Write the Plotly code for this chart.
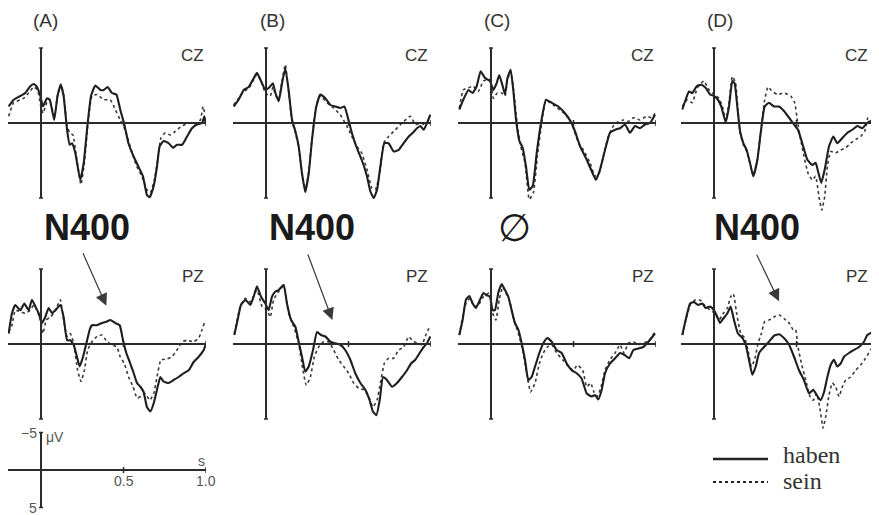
import plotly.graph_objects as go

# ---------------- data (time in s, amplitude in microvolt; negative plotted up) -------------
A_CZ_haben_t = [-0.196,-0.166,-0.125,-0.095,-0.065,-0.044,-0.024,-0.004,0.012,0.036,0.053,0.08,0.10,0.12,0.137,0.158,0.174,0.188,0.208,0.238,0.259,0.283,0.303,0.329,0.36,0.38,0.404,0.43,0.457,0.48,0.505,0.53,0.56,0.59,0.618,0.642,0.659,0.683,0.703,0.719,0.743,0.774,0.80,0.824,0.855,0.885,0.915,0.945,0.976,0.99,0.998]
A_CZ_haben_uv = [-2.2,-3.1,-3.6,-4.0,-4.9,-5.2,-4.8,-3.6,-2.2,-3.3,-3.1,-0.4,-3.6,-5.1,-3.6,0.9,2.9,2.7,4.0,7.6,5.3,0.0,-3.6,-5.0,-4.4,-4.4,-4.8,-4.0,-3.8,-1.8,0.2,2.7,4.4,5.8,7.1,9.6,9.9,8.4,5.8,3.1,2.4,2.7,3.3,2.9,2.9,1.8,0.7,0.2,0.0,-0.9,0.1]
A_CZ_sein_t = [-0.196,-0.166,-0.105,-0.075,-0.044,-0.02,-0.004,0.012,0.036,0.057,0.08,0.10,0.12,0.137,0.158,0.174,0.194,0.214,0.242,0.263,0.283,0.309,0.34,0.38,0.42,0.45,0.48,0.51,0.54,0.58,0.612,0.642,0.663,0.687,0.707,0.727,0.753,0.784,0.814,0.855,0.895,0.935,0.966,0.982,0.994]
A_CZ_sein_uv = [-0.9,-2.7,-3.3,-4.0,-4.8,-4.4,-2.5,-1.3,-2.7,-2.7,-0.7,-3.6,-5.2,-3.8,0.4,1.3,1.6,4.4,8.2,5.3,0.4,-3.6,-3.8,-3.1,-3.1,-1.8,-0.4,0.9,3.1,5.8,7.1,8.9,9.3,7.6,4.9,2.0,1.3,1.6,1.1,0.4,0.0,0.1,-0.4,-2.2,-1.1]

B_CZ_haben_t = [-0.196,-0.166,-0.135,-0.105,-0.079,-0.055,-0.03,-0.004,0.022,0.042,0.057,0.077,0.097,0.117,0.137,0.158,0.178,0.198,0.218,0.238,0.259,0.279,0.305,0.329,0.36,0.39,0.42,0.45,0.475,0.50,0.52,0.55,0.58,0.612,0.632,0.653,0.673,0.693,0.717,0.743,0.774,0.804,0.834,0.865,0.89,0.915,0.935,0.956,0.976,0.996]
B_CZ_haben_uv = [-2.2,-3.1,-4.4,-4.8,-5.8,-6.7,-5.6,-4.4,-4.8,-5.3,-4.0,-2.9,-5.3,-7.3,-4.4,-0.4,1.1,3.1,6.7,9.2,6.7,2.2,-2.2,-3.8,-3.3,-2.4,-2.2,-2.0,-2.2,-0.4,1.3,3.3,4.9,7.1,9.1,10.0,8.9,5.8,2.7,2.7,3.8,3.6,2.7,1.8,1.3,0.7,0.4,0.9,0.0,-1.1]
B_CZ_sein_t = [-0.196,-0.166,-0.135,-0.105,-0.079,-0.055,-0.03,-0.004,0.026,0.042,0.057,0.077,0.097,0.117,0.137,0.158,0.178,0.198,0.218,0.238,0.259,0.279,0.305,0.33,0.37,0.41,0.45,0.49,0.52,0.55,0.58,0.612,0.642,0.663,0.689,0.713,0.743,0.784,0.824,0.875,0.905,0.935,0.966,0.992]
B_CZ_sein_uv = [-2.4,-3.3,-4.2,-4.6,-5.6,-6.5,-5.6,-4.0,-3.6,-4.8,-3.8,-3.1,-5.6,-7.8,-4.2,-0.2,1.3,3.3,6.5,9.1,6.5,2.0,-2.4,-3.6,-2.7,-2.0,-1.1,0.4,1.8,3.1,4.0,6.2,8.7,8.9,6.7,2.7,1.8,0.9,0.0,-0.9,0.2,0.0,0.2,-0.4]

C_CZ_haben_t = [-0.192,-0.168,-0.137,-0.111,-0.087,-0.063,-0.036,-0.006,0.014,0.034,0.05,0.071,0.085,0.10,0.119,0.135,0.152,0.172,0.192,0.212,0.232,0.253,0.277,0.303,0.333,0.368,0.408,0.448,0.483,0.509,0.54,0.58,0.616,0.636,0.661,0.691,0.721,0.752,0.782,0.812,0.842,0.873,0.903,0.933,0.964,0.994]
C_CZ_haben_uv = [-1.8,-3.1,-4.4,-4.0,-4.9,-6.9,-6.0,-5.6,-4.4,-5.3,-6.4,-4.9,-3.8,-6.0,-7.1,-4.4,-0.4,2.4,3.3,5.8,8.9,8.4,4.0,0.0,-3.1,-2.7,-2.2,-1.3,-0.2,1.1,3.1,4.9,6.7,7.6,6.2,3.6,1.3,0.9,0.7,0.2,1.3,0.4,0.7,0.2,0.0,-1.1]
C_CZ_sein_t = [-0.192,-0.168,-0.137,-0.107,-0.077,-0.046,-0.006,0.014,0.038,0.065,0.085,0.10,0.119,0.139,0.16,0.18,0.206,0.232,0.257,0.281,0.307,0.333,0.378,0.428,0.469,0.499,0.53,0.56,0.60,0.63,0.656,0.685,0.711,0.741,0.772,0.802,0.832,0.863,0.903,0.943,0.974,0.994]
C_CZ_sein_uv = [-2.0,-4.4,-4.7,-4.9,-4.2,-5.6,-5.8,-3.3,-4.0,-4.0,-3.6,-5.8,-6.9,-4.0,0.4,3.1,5.3,10.2,9.3,4.4,0.0,-3.0,-2.4,-1.6,-0.7,0.7,2.7,3.6,5.3,7.1,6.7,4.0,1.8,0.4,-0.2,-0.4,-0.2,-0.7,-0.4,-0.9,-0.7,-1.3]

D_CZ_haben_t = [-0.192,-0.172,-0.152,-0.131,-0.105,-0.077,-0.051,-0.024,0.0,0.024,0.044,0.071,0.091,0.111,0.125,0.141,0.158,0.178,0.198,0.218,0.238,0.263,0.283,0.307,0.333,0.364,0.394,0.424,0.455,0.485,0.509,0.535,0.566,0.596,0.616,0.63,0.65,0.671,0.697,0.723,0.747,0.778,0.808,0.838,0.869,0.899,0.929,0.96,0.99]
D_CZ_haben_uv = [-1.8,-3.1,-4.2,-4.0,-4.9,-5.1,-4.7,-3.8,-3.6,-3.1,-2.2,-0.1,-2.2,-5.6,-5.3,-2.2,1.1,2.7,3.6,5.3,7.1,4.9,1.3,-2.2,-2.7,-2.2,-2.2,-1.6,-0.7,0.2,0.9,2.7,4.9,5.6,5.3,6.4,8.0,6.2,3.1,1.8,2.7,2.0,1.3,0.9,0.4,0.7,0.0,-0.4,-1.1]
D_CZ_sein_t = [-0.192,-0.162,-0.131,-0.101,-0.061,-0.03,0.0,0.03,0.051,0.071,0.091,0.111,0.131,0.145,0.158,0.178,0.198,0.218,0.238,0.263,0.283,0.307,0.327,0.354,0.384,0.424,0.465,0.489,0.505,0.525,0.545,0.57,0.596,0.616,0.636,0.653,0.671,0.687,0.707,0.737,0.768,0.798,0.828,0.859,0.889,0.913,0.933,0.96,0.986]
D_CZ_sein_uv = [-2.2,-3.1,-2.7,-4.7,-5.6,-4.4,-3.8,-3.3,-2.2,-0.4,-2.7,-6.2,-5.3,-1.8,1.3,2.9,3.8,5.4,7.0,4.8,1.3,-3.1,-4.8,-4.2,-3.8,-4.0,-3.6,-2.7,-0.4,2.2,4.4,6.7,7.6,7.1,9.8,11.6,9.8,5.8,3.8,4.0,3.6,3.3,2.7,2.2,1.8,1.1,-0.7,-0.9,-1.1]

A_PZ_haben_t = [-0.196,-0.176,-0.156,-0.125,-0.101,-0.075,-0.055,-0.034,-0.014,0.006,0.026,0.046,0.067,0.087,0.117,0.137,0.158,0.178,0.198,0.218,0.234,0.255,0.275,0.295,0.309,0.339,0.37,0.40,0.42,0.45,0.477,0.497,0.517,0.541,0.562,0.582,0.602,0.622,0.642,0.663,0.683,0.703,0.723,0.743,0.774,0.804,0.834,0.865,0.895,0.925,0.956,0.986,1.0]
A_PZ_haben_uv = [-1.4,-4.1,-5.2,-4.5,-5.4,-4.5,-5.9,-5.0,-4.1,-2.8,-3.6,-4.8,-4.1,-4.5,-5.2,-3.6,-0.5,-0.5,0.1,1.7,3.0,1.7,-0.1,-1.9,-2.5,-2.5,-2.8,-3.0,-3.2,-2.8,-2.5,-0.5,1.2,2.6,3.9,5.2,5.7,6.4,8.4,9.0,7.9,6.1,4.4,5.0,5.2,4.8,4.4,3.9,3.5,2.4,1.7,0.8,-0.1]
A_PZ_sein_t = [-0.196,-0.176,-0.156,-0.125,-0.095,-0.065,-0.044,-0.024,-0.004,0.012,0.032,0.057,0.077,0.097,0.117,0.137,0.158,0.178,0.198,0.222,0.242,0.263,0.283,0.309,0.339,0.37,0.40,0.43,0.46,0.48,0.505,0.531,0.558,0.582,0.606,0.632,0.659,0.683,0.703,0.727,0.764,0.794,0.824,0.855,0.885,0.925,0.956,0.976,0.99]
A_PZ_sein_uv = [-1.6,-2.5,-4.5,-4.3,-4.1,-4.5,-5.2,-4.5,-3.2,-1.4,-3.2,-3.6,-4.1,-5.0,-5.9,-3.2,-1.0,-1.4,-0.1,3.5,5.0,3.5,0.8,-0.3,-1.0,-1.2,-0.3,0.1,0.4,1.7,2.6,4.4,5.7,7.2,7.0,6.6,7.5,6.6,4.4,2.1,2.0,1.7,0.8,-0.3,-0.5,-0.3,-0.8,-1.9,-2.8]

B_PZ_haben_t = [-0.192,-0.172,-0.152,-0.125,-0.095,-0.075,-0.055,-0.03,-0.004,0.016,0.036,0.057,0.077,0.107,0.127,0.152,0.178,0.198,0.218,0.238,0.259,0.285,0.309,0.333,0.36,0.39,0.42,0.45,0.48,0.511,0.541,0.572,0.602,0.628,0.648,0.669,0.689,0.709,0.733,0.764,0.794,0.824,0.855,0.879,0.905,0.931,0.956,0.976,0.996]
B_PZ_haben_uv = [-1.2,-3.2,-5.2,-5.9,-5.2,-6.3,-7.7,-6.3,-5.4,-4.5,-6.3,-7.0,-7.2,-7.9,-5.4,-3.2,-2.3,-0.3,1.7,3.7,3.0,0.8,-1.6,-1.2,-1.0,-0.3,-0.1,0.1,0.8,2.1,3.9,5.2,6.1,7.5,9.0,9.5,7.5,4.4,4.8,5.7,5.2,4.4,3.5,2.6,2.1,1.2,0.4,-0.1,-1.0]
B_PZ_sein_t = [-0.192,-0.156,-0.125,-0.095,-0.055,-0.024,0.006,0.026,0.046,0.077,0.107,0.137,0.168,0.198,0.224,0.244,0.269,0.293,0.319,0.349,0.38,0.41,0.44,0.471,0.501,0.531,0.562,0.592,0.622,0.648,0.673,0.693,0.717,0.743,0.774,0.804,0.834,0.865,0.885,0.915,0.945,0.972,0.992]
B_PZ_sein_uv = [-1.4,-5.0,-6.1,-5.6,-7.2,-5.0,-4.5,-3.6,-5.9,-7.0,-7.7,-4.1,-2.3,-0.1,3.5,5.5,4.4,1.7,0.4,-0.3,-0.3,0.8,2.1,3.0,3.9,5.2,5.9,6.1,7.0,8.4,7.5,5.2,2.6,1.9,1.9,0.8,0.4,-1.0,-0.5,-0.1,0.1,-1.4,-2.3]

C_PZ_haben_t = [-0.192,-0.172,-0.152,-0.131,-0.111,-0.091,-0.067,-0.046,-0.026,-0.006,0.01,0.024,0.044,0.065,0.085,0.105,0.125,0.145,0.166,0.186,0.206,0.226,0.246,0.267,0.293,0.317,0.341,0.368,0.398,0.428,0.459,0.489,0.519,0.549,0.58,0.61,0.63,0.65,0.671,0.691,0.721,0.752,0.782,0.812,0.838,0.863,0.893,0.923,0.954,0.994]
C_PZ_haben_uv = [-1.2,-3.2,-5.9,-6.4,-5.4,-4.8,-5.9,-6.8,-6.5,-6.3,-4.5,-4.5,-6.8,-8.0,-7.2,-6.3,-4.5,-2.8,-1.9,-0.1,2.1,4.8,4.4,3.0,1.2,-0.1,-0.8,-0.3,0.8,1.2,2.6,3.5,3.9,4.6,6.6,7.0,6.8,7.4,6.1,3.9,2.6,1.9,1.2,1.5,1.9,0.8,0.6,0.4,-0.3,-1.4]
C_PZ_sein_t = [-0.192,-0.172,-0.152,-0.127,-0.103,-0.077,-0.046,-0.01,0.01,0.03,0.05,0.071,0.091,0.115,0.139,0.166,0.192,0.216,0.24,0.267,0.293,0.317,0.341,0.368,0.398,0.434,0.469,0.499,0.523,0.556,0.58,0.604,0.624,0.644,0.665,0.691,0.721,0.752,0.782,0.806,0.832,0.863,0.893,0.923,0.96,0.994]
C_PZ_sein_uv = [-1.2,-3.6,-5.4,-6.1,-5.0,-5.2,-6.3,-6.8,-4.1,-3.2,-5.9,-7.6,-6.8,-5.6,-3.2,-1.4,0.8,3.9,6.4,5.2,2.6,1.2,0.4,0.1,1.2,2.1,3.0,3.5,2.8,3.5,5.7,5.2,6.4,7.0,5.9,3.5,2.1,1.2,0.1,1.2,-0.1,-0.3,0.1,-0.1,-0.5,-1.6]

D_PZ_haben_t = [-0.192,-0.172,-0.145,-0.121,-0.097,-0.071,-0.051,-0.024,0.0,0.02,0.036,0.057,0.081,0.101,0.121,0.145,0.172,0.192,0.212,0.232,0.253,0.273,0.303,0.333,0.364,0.394,0.424,0.455,0.485,0.515,0.545,0.576,0.602,0.622,0.646,0.667,0.687,0.707,0.727,0.747,0.768,0.788,0.818,0.848,0.879,0.909,0.929,0.96,0.99]
D_PZ_haben_uv = [-1.2,-3.2,-5.4,-5.6,-5.2,-5.4,-4.8,-5.0,-4.5,-3.6,-2.8,-3.4,-4.1,-5.0,-3.2,-1.4,-0.8,0.1,2.1,4.1,3.0,1.2,0.4,-0.3,-1.1,-1.3,-0.8,0.1,1.7,3.5,4.8,6.6,6.1,6.8,7.5,6.4,4.4,2.8,2.1,3.0,2.6,1.7,1.2,0.8,0.4,-0.3,-1.2,-1.6,-2.1]
D_PZ_sein_t = [-0.192,-0.166,-0.141,-0.111,-0.081,-0.051,-0.02,0.004,0.03,0.057,0.081,0.101,0.117,0.137,0.162,0.186,0.206,0.226,0.246,0.267,0.287,0.307,0.333,0.364,0.394,0.424,0.455,0.48,0.495,0.509,0.53,0.556,0.582,0.602,0.622,0.642,0.661,0.677,0.697,0.717,0.737,0.758,0.778,0.798,0.828,0.859,0.889,0.919,0.949,0.98,0.994]
D_PZ_sein_uv = [-1.2,-3.6,-5.4,-5.9,-5.8,-5.0,-4.5,-4.1,-3.2,-4.1,-4.8,-6.3,-6.7,-4.1,-1.4,-0.8,0.8,3.0,2.1,-0.1,-1.4,-3.0,-3.2,-3.6,-3.9,-3.4,-2.8,-1.9,-1.9,0.4,2.6,4.8,7.0,7.5,6.6,8.6,11.2,9.7,6.8,5.2,5.7,7.0,5.7,4.8,4.4,3.5,2.8,1.9,0.8,-0.1,-0.3]

conditions = ["(A)", "(B)", "(C)", "(D)"]
electrodes = ["CZ", "PZ"]
series_names = ["haben", "sein"]
effect_labels = ["N400", "N400", "\u2205", "N400"]
x_ticks = [0.5, 1.0]
x_tick_labels = ["0.5", "1.0"]
y_scale_labels = ["\u22125", "5"]

panels = [
    (A_CZ_haben_t, A_CZ_haben_uv, A_CZ_sein_t, A_CZ_sein_uv),
    (B_CZ_haben_t, B_CZ_haben_uv, B_CZ_sein_t, B_CZ_sein_uv),
    (C_CZ_haben_t, C_CZ_haben_uv, C_CZ_sein_t, C_CZ_sein_uv),
    (D_CZ_haben_t, D_CZ_haben_uv, D_CZ_sein_t, D_CZ_sein_uv),
    (A_PZ_haben_t, A_PZ_haben_uv, A_PZ_sein_t, A_PZ_sein_uv),
    (B_PZ_haben_t, B_PZ_haben_uv, B_PZ_sein_t, B_PZ_sein_uv),
    (C_PZ_haben_t, C_PZ_haben_uv, C_PZ_sein_t, C_PZ_sein_uv),
    (D_PZ_haben_t, D_PZ_haben_uv, D_PZ_sein_t, D_PZ_sein_uv),
]

# ---------------- layout geometry ----------------
W, H = 879, 515          # browser window
OFF = 8                  # default page body margin
FW, FH = W - OFF, H - OFF
T0, T1 = -0.2, 1.0
PX_PER_S = 165.0
PX_PER_UV = 7.5
LIM = 13.0          # plotted half-range (µV)
AX_LIM = 10.0       # drawn axis half-length (µV)
SCALE_LIM = 6.0
col_left = [8, 233, 458, 681]
label_right_px = [206, 430, 656, 870]
row_zero = [123, 344]
scale_zero = 470
INK = "#2b2b2b"
FONT = "Liberation Sans, Arial, Helvetica, sans-serif"

def px_x(p):
    return (p - OFF) / FW

def px_y(p):
    return 1 - (p - OFF) / FH

def clamp(v):
    return min(1.0, max(0.0, v))

def xdomain(left):
    return [clamp(px_x(left)), clamp(px_x(left + (T1 - T0) * PX_PER_S))]

def ydomain(zero, lim):
    return [clamp(px_y(zero + lim * PX_PER_UV)), clamp(px_y(zero - lim * PX_PER_UV))]

def ax_names(n):
    return ("x" if n == 1 else f"x{n}", "y" if n == 1 else f"y{n}",
            "xaxis" if n == 1 else f"xaxis{n}", "yaxis" if n == 1 else f"yaxis{n}")

fig = go.Figure()
layout = {}
shapes = []
annotations = []

def add_axes(n, left, zero, lim, ylim_axis, tick_half_px=3.0, cap=0.012):
    xr, yr, xa, ya = ax_names(n)
    layout[xa] = dict(domain=xdomain(left), range=[T0, T1], visible=False,
                      anchor=yr, fixedrange=True)
    layout[ya] = dict(domain=ydomain(zero, lim), range=[lim, -lim], visible=False,
                      anchor=xr, fixedrange=True)
    line = dict(color=INK, width=2)
    shapes.append(dict(type="line", xref=xr, yref=yr, x0=T0, x1=T1, y0=0, y1=0, line=line))
    shapes.append(dict(type="line", xref=xr, yref=yr, x0=0, x1=0, y0=-ylim_axis, y1=ylim_axis, line=line))
    for yv in (-ylim_axis, ylim_axis):
        shapes.append(dict(type="line", xref=xr, yref=yr, x0=-cap, x1=cap, y0=yv, y1=yv,
                           line=dict(color=INK, width=1.5)))
    th = tick_half_px / PX_PER_UV
    for tv in x_ticks:
        shapes.append(dict(type="line", xref=xr, yref=yr, x0=tv, x1=tv, y0=-th, y1=th,
                           line=dict(color=INK, width=1.5)))
    return xr, yr

for i, (ht, hv, st, sv) in enumerate(panels):
    n = i + 1
    row, col = divmod(i, 4)
    xr, yr = add_axes(n, col_left[col], row_zero[row], LIM, AX_LIM)
    fig.add_trace(go.Scatter(x=st, y=sv, xaxis=xr, yaxis=yr, mode="lines",
                             name=series_names[1], showlegend=False,
                             line=dict(color="#3a3a3a", width=1.6, dash="dot",
                                       shape="spline", smoothing=0.4),
                             hoverinfo="skip"))
    fig.add_trace(go.Scatter(x=ht, y=hv, xaxis=xr, yaxis=yr, mode="lines",
                             name=series_names[0], showlegend=False,
                             line=dict(color="#1e1e1e", width=2.1,
                                       shape="spline", smoothing=0.4),
                             hoverinfo="skip"))
    annotations.append(dict(text=electrodes[row], xref="paper", yref=yr,
                            x=px_x(label_right_px[col]), y=-9.0,
                            xanchor="right", yanchor="middle", showarrow=False,
                            font=dict(family=FONT, size=17, color="#333")))

# scale (calibration) panel
sxr, syr = add_axes(9, col_left[0], scale_zero, SCALE_LIM, 5.0)
small = dict(family=FONT, size=14, color="#555")
annotations += [
    dict(text=y_scale_labels[0], xref=sxr, yref=syr, x=-0.015, y=-5.0, xanchor="right",
         yanchor="middle", showarrow=False, font=small),
    dict(text="\u03bcV", xref=sxr, yref=syr, x=0.018, y=-4.4, xanchor="left",
         yanchor="middle", showarrow=False, font=small),
    dict(text=y_scale_labels[1], xref=sxr, yref=syr, x=-0.015, y=5.0, xanchor="right",
         yanchor="middle", showarrow=False, font=small),
    dict(text=x_tick_labels[0], xref=sxr, yref=syr, x=x_ticks[0], y=1.5, xanchor="center",
         yanchor="middle", showarrow=False, font=small),
    dict(text=x_tick_labels[1], xref=sxr, yref=syr, x=x_ticks[1], y=1.5, xanchor="center",
         yanchor="middle", showarrow=False, font=small),
    dict(text="s", xref=sxr, yref=syr, x=0.97, y=-1.2, xanchor="center",
         yanchor="middle", showarrow=False, font=small),
]

# condition letters
letter_px = [45, 272, 497, 720]
for lab, xp in zip(conditions, letter_px):
    annotations.append(dict(text=lab, xref="paper", yref="paper", x=px_x(xp), y=px_y(20),
                            xanchor="center", yanchor="middle", showarrow=False,
                            font=dict(family=FONT, size=19, color="#333")))

# effect labels
effect_px = [86.5, 311.5, 514.5, 756.5]
for lab, xp in zip(effect_labels, effect_px):
    if lab == "N400":
        f = dict(family=FONT, size=36, color="#1a1a1a")
        txt = "<b>N400</b>"
        yy = 227
    else:
        f = dict(family="DejaVu Sans", size=38, color="#1a1a1a")
        txt = lab
        yy = 228
    annotations.append(dict(text=txt, xref="paper", yref="paper", x=px_x(xp), y=px_y(yy),
                            xanchor="center", yanchor="middle", showarrow=False, font=f))

# arrows pointing at the N400 effects (tips in PZ data coordinates)
arrow_specs = [(5, 0.396, -5.1, -24, -54), (6, 0.402, -3.2, -25, -67), (8, 0.394, -5.7, -23, -48)]
for n, tx, ty, axp, ayp in arrow_specs:
    xr, yr, _, _ = ax_names(n)
    annotations.append(dict(text="", xref=xr, yref=yr, x=tx, y=ty, ax=axp, ay=ayp,
                            showarrow=True, arrowhead=2, arrowsize=2.0, arrowwidth=1.2,
                            arrowcolor="#3a3a3a", standoff=0))

# custom legend
leg_x0, leg_x1 = 713, 768
leg_rows = [(459, "solid", 2.4, 455), (482, "dot", 1.8, 481)]
for (yp, dash, w, ty), name in zip(leg_rows, series_names):
    shapes.append(dict(type="line", xref="paper", yref="paper", x0=px_x(leg_x0), x1=px_x(leg_x1),
                       y0=px_y(yp), y1=px_y(yp), line=dict(color="#222", width=w, dash=dash)))
    annotations.append(dict(text=name, xref="paper", yref="paper", x=px_x(781), y=px_y(ty),
                            xanchor="left", yanchor="middle", showarrow=False,
                            font=dict(family="Liberation Serif, Times New Roman, serif",
                                      size=24, color="#333")))

fig.update_layout(**layout)
fig.update_layout(width=FW, height=FH, margin=dict(l=0, r=0, t=0, b=0),
                  paper_bgcolor="white", plot_bgcolor="rgba(0,0,0,0)",
                  showlegend=False, shapes=shapes, annotations=annotations)

fig.write_html("out.html", include_plotlyjs=True, config={"displayModeBar": False})
